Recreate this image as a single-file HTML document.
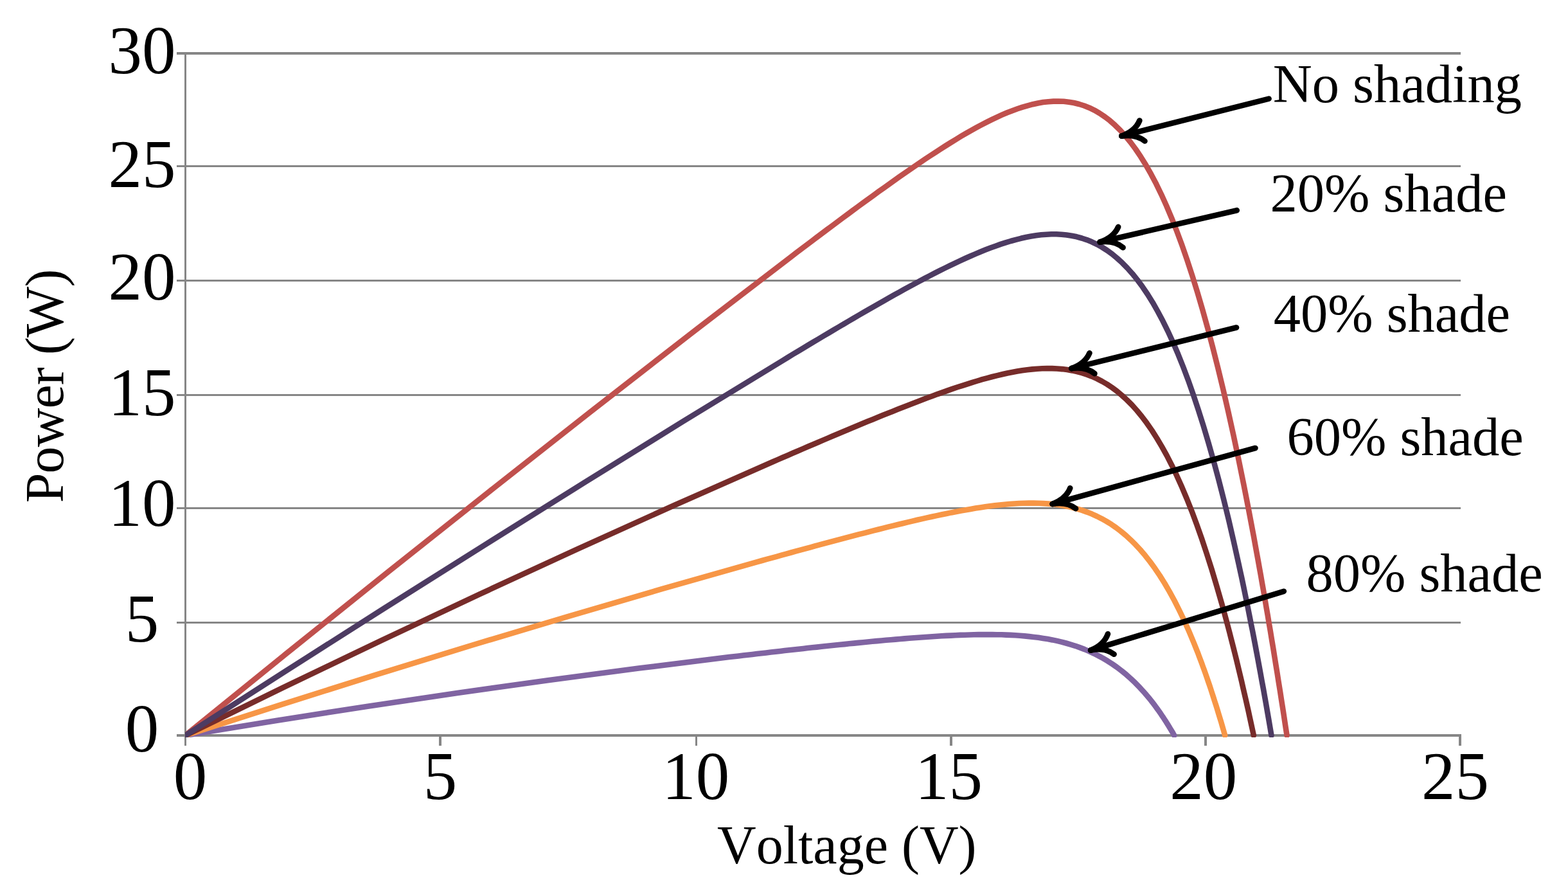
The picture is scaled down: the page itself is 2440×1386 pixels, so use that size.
<!DOCTYPE html>
<html><head><meta charset="utf-8"><title>PV power curves under shading</title>
<style>html,body{margin:0;padding:0;background:#fff;}html,body{width:2440px;height:1386px;overflow:hidden;}svg{display:block;}text{font-kerning:none;font-feature-settings:'kern' 0;}</style></head>
<body><svg width="2440" height="1386" viewBox="0 0 2440 1386">
<rect width="2440" height="1386" fill="#fff"/>
<g fill="#868686"><rect x="275" y="81.0" width="1998" height="4"/><rect x="275" y="257.0" width="1998" height="3"/><rect x="275" y="435.0" width="1998" height="3"/><rect x="275" y="613.0" width="1998" height="3"/><rect x="275" y="789.0" width="1998" height="3"/><rect x="275" y="967.0" width="1998" height="3"/><rect x="287" y="81" width="3" height="1079"/><rect x="275" y="1142" width="1998" height="4"/><rect x="683" y="1142" width="4" height="18"/><rect x="1082" y="1142" width="3" height="18"/><rect x="1478" y="1142" width="4" height="18"/><rect x="1874" y="1142" width="4" height="18"/><rect x="2270" y="1142" width="4" height="18"/></g>
<defs><clipPath id="pa"><rect x="288" y="60" width="2000" height="1087"/></clipPath></defs>
<g clip-path="url(#pa)">
<path d="M288.5,1144.0 L445.6,1016.7 L602.7,890.6 L759.9,765.8 L917.0,642.1 L1074.1,519.8 L1231.2,399.3 L1239.2,393.2 L1247.2,387.1 L1255.2,381.1 L1263.2,375.1 L1271.2,369.0 L1279.2,363.0 L1287.2,357.0 L1295.2,351.1 L1303.2,345.1 L1311.2,339.1 L1319.2,333.2 L1327.2,327.3 L1335.2,321.4 L1343.2,315.6 L1351.2,309.7 L1359.2,303.9 L1367.2,298.1 L1375.2,292.4 L1383.2,286.7 L1391.2,281.0 L1399.2,275.3 L1407.2,269.7 L1415.2,264.2 L1423.2,258.7 L1431.2,253.2 L1439.2,247.8 L1447.2,242.5 L1455.2,237.3 L1463.2,232.1 L1471.2,227.0 L1479.2,222.0 L1487.2,217.1 L1495.2,212.2 L1503.2,207.5 L1511.2,203.0 L1519.2,198.5 L1527.2,194.2 L1535.2,190.1 L1543.2,186.1 L1551.2,182.3 L1559.2,178.7 L1567.2,175.3 L1575.2,172.2 L1583.2,169.3 L1591.2,166.6 L1599.2,164.3 L1607.2,162.2 L1615.2,160.5 L1623.2,159.1 L1631.2,158.2 L1639.2,157.6 L1647.2,157.5 L1655.2,157.8 L1663.2,158.7 L1671.2,160.0 L1679.2,162.0 L1687.2,164.5 L1695.2,167.7 L1703.2,171.6 L1711.2,176.2 L1719.2,181.6 L1727.2,187.7 L1735.2,194.8 L1743.2,202.6 L1751.2,211.5 L1759.2,221.2 L1767.2,232.0 L1775.2,243.9 L1783.2,256.8 L1791.2,270.9 L1799.2,286.1 L1807.2,302.6 L1815.2,320.3 L1823.2,339.2 L1831.2,359.5 L1839.2,381.1 L1847.2,404.1 L1855.2,428.5 L1863.2,454.3 L1871.2,481.5 L1879.2,510.2 L1887.2,540.3 L1895.2,572.0 L1903.2,605.1 L1911.2,639.7 L1919.2,675.9 L1927.2,713.6 L1935.2,752.8 L1943.2,793.6 L1951.2,835.8 L1953.3,847.4 L1955.4,859.1 L1957.6,870.9 L1959.7,882.8 L1961.9,894.8 L1964.0,907.0 L1966.2,919.2 L1968.3,931.6 L1970.4,944.0 L1972.6,956.6 L1974.7,969.3 L1976.9,982.1 L1979.0,995.0 L1981.2,1008.0 L1983.3,1021.1 L1985.4,1034.3 L1987.6,1047.6 L1989.7,1061.1 L1991.9,1074.6 L1994.0,1088.3 L1996.2,1102.1 L1998.3,1115.9 L2000.4,1129.9 L2002.6,1144.0" fill="none" stroke="#C0504D" stroke-width="8.6" stroke-linecap="round" stroke-linejoin="round"/>
<path d="M288.5,1144.0 L429.6,1120.9 L570.6,1098.9 L711.7,1078.0 L852.7,1058.2 L993.8,1039.6 L1134.8,1022.1 L1142.0,1021.3 L1149.2,1020.4 L1156.4,1019.6 L1163.6,1018.7 L1170.7,1017.9 L1177.9,1017.0 L1185.1,1016.2 L1192.3,1015.4 L1199.5,1014.6 L1206.6,1013.7 L1213.8,1012.9 L1221.0,1012.1 L1228.2,1011.3 L1235.4,1010.5 L1242.5,1009.7 L1249.7,1008.9 L1256.9,1008.1 L1264.1,1007.3 L1271.3,1006.6 L1278.4,1005.8 L1285.6,1005.0 L1292.8,1004.3 L1300.0,1003.5 L1307.2,1002.8 L1314.4,1002.1 L1321.5,1001.3 L1328.7,1000.6 L1335.9,999.9 L1343.1,999.2 L1350.3,998.5 L1357.4,997.8 L1364.6,997.1 L1371.8,996.5 L1379.0,995.8 L1386.2,995.2 L1393.3,994.6 L1400.5,994.0 L1407.7,993.4 L1414.9,992.8 L1422.1,992.2 L1429.2,991.7 L1436.4,991.2 L1443.6,990.7 L1450.8,990.2 L1458.0,989.8 L1465.2,989.3 L1472.3,988.9 L1479.5,988.6 L1486.7,988.2 L1493.9,987.9 L1501.1,987.7 L1508.2,987.5 L1515.4,987.3 L1522.6,987.1 L1529.8,987.1 L1537.0,987.0 L1544.1,987.1 L1551.3,987.2 L1558.5,987.3 L1565.7,987.6 L1572.9,987.9 L1580.0,988.3 L1587.2,988.8 L1594.4,989.4 L1601.6,990.1 L1608.8,990.9 L1616.0,991.8 L1623.1,992.9 L1630.3,994.1 L1637.5,995.4 L1644.7,996.9 L1651.9,998.6 L1659.0,1000.5 L1666.2,1002.6 L1673.4,1004.8 L1680.6,1007.4 L1687.8,1010.1 L1694.9,1013.1 L1702.1,1016.5 L1709.3,1020.1 L1716.5,1024.0 L1723.7,1028.3 L1730.8,1032.9 L1738.0,1037.9 L1745.2,1043.4 L1752.4,1049.2 L1759.6,1055.6 L1766.8,1062.4 L1773.9,1069.8 L1781.1,1077.7 L1783.0,1079.9 L1785.0,1082.2 L1786.9,1084.5 L1788.8,1086.8 L1790.7,1089.2 L1792.7,1091.7 L1794.6,1094.2 L1796.5,1096.7 L1798.4,1099.3 L1800.3,1101.9 L1802.3,1104.6 L1804.2,1107.3 L1806.1,1110.0 L1808.0,1112.9 L1810.0,1115.7 L1811.9,1118.7 L1813.8,1121.6 L1815.7,1124.7 L1817.7,1127.8 L1819.6,1130.9 L1821.5,1134.1 L1823.4,1137.3 L1825.4,1140.6 L1827.3,1144.0" fill="none" stroke="#8064A2" stroke-width="8.6" stroke-linecap="round" stroke-linejoin="round"/>
<path d="M288.5,1144.0 L436.8,1096.3 L585.1,1049.6 L733.4,1004.0 L881.7,959.6 L1030.0,916.2 L1178.2,874.1 L1185.8,872.0 L1193.3,869.9 L1200.9,867.8 L1208.4,865.8 L1216.0,863.7 L1223.5,861.6 L1231.1,859.5 L1238.6,857.4 L1246.2,855.4 L1253.7,853.3 L1261.3,851.3 L1268.8,849.2 L1276.4,847.2 L1283.9,845.2 L1291.5,843.1 L1299.0,841.1 L1306.6,839.1 L1314.1,837.1 L1321.7,835.2 L1329.2,833.2 L1336.8,831.2 L1344.3,829.3 L1351.9,827.3 L1359.4,825.4 L1367.0,823.5 L1374.5,821.6 L1382.1,819.7 L1389.6,817.8 L1397.2,816.0 L1404.7,814.2 L1412.3,812.4 L1419.8,810.6 L1427.4,808.8 L1434.9,807.1 L1442.5,805.4 L1450.0,803.7 L1457.6,802.1 L1465.1,800.5 L1472.7,799.0 L1480.2,797.4 L1487.8,796.0 L1495.3,794.5 L1502.9,793.2 L1510.4,791.9 L1518.0,790.6 L1525.5,789.4 L1533.1,788.3 L1540.6,787.3 L1548.2,786.3 L1555.7,785.5 L1563.3,784.7 L1570.8,784.0 L1578.4,783.5 L1585.9,783.0 L1593.5,782.7 L1601.0,782.6 L1608.6,782.6 L1616.1,782.7 L1623.7,783.1 L1631.2,783.6 L1638.8,784.3 L1646.3,785.3 L1653.9,786.5 L1661.4,787.9 L1669.0,789.6 L1676.5,791.6 L1684.1,793.9 L1691.6,796.6 L1699.2,799.6 L1706.7,803.0 L1714.3,806.8 L1721.8,811.0 L1729.4,815.7 L1736.9,820.9 L1744.4,826.6 L1752.0,832.9 L1759.5,839.8 L1767.1,847.3 L1774.6,855.4 L1782.2,864.3 L1789.7,873.9 L1797.3,884.3 L1804.8,895.4 L1812.4,907.5 L1819.9,920.4 L1827.5,934.3 L1835.0,949.1 L1842.6,964.9 L1850.1,981.8 L1857.7,999.8 L1859.7,1004.8 L1861.7,1009.9 L1863.8,1015.1 L1865.8,1020.4 L1867.8,1025.7 L1869.8,1031.1 L1871.8,1036.6 L1873.9,1042.2 L1875.9,1047.9 L1877.9,1053.7 L1879.9,1059.5 L1882.0,1065.5 L1884.0,1071.5 L1886.0,1077.7 L1888.0,1083.9 L1890.0,1090.2 L1892.1,1096.6 L1894.1,1103.1 L1896.1,1109.7 L1898.1,1116.3 L1900.2,1123.1 L1902.2,1130.0 L1904.2,1136.9 L1906.2,1144.0" fill="none" stroke="#F79646" stroke-width="8.6" stroke-linecap="round" stroke-linejoin="round"/>
<path d="M288.5,1144.0 L440.9,1069.4 L593.3,996.3 L745.7,924.6 L898.0,854.3 L1050.4,785.5 L1202.8,718.3 L1210.6,714.9 L1218.3,711.5 L1226.1,708.2 L1233.8,704.8 L1241.6,701.5 L1249.4,698.1 L1257.1,694.8 L1264.9,691.5 L1272.6,688.2 L1280.4,684.9 L1288.1,681.6 L1295.9,678.3 L1303.7,675.0 L1311.4,671.8 L1319.2,668.5 L1326.9,665.3 L1334.7,662.0 L1342.4,658.8 L1350.2,655.6 L1358.0,652.4 L1365.7,649.3 L1373.5,646.1 L1381.2,643.0 L1389.0,639.9 L1396.7,636.8 L1404.5,633.7 L1412.3,630.7 L1420.0,627.7 L1427.8,624.7 L1435.5,621.7 L1443.3,618.8 L1451.1,616.0 L1458.8,613.1 L1466.6,610.4 L1474.3,607.6 L1482.1,604.9 L1489.8,602.3 L1497.6,599.8 L1505.4,597.3 L1513.1,594.8 L1520.9,592.5 L1528.6,590.2 L1536.4,588.1 L1544.1,586.0 L1551.9,584.1 L1559.7,582.2 L1567.4,580.5 L1575.2,579.0 L1582.9,577.6 L1590.7,576.3 L1598.4,575.2 L1606.2,574.4 L1614.0,573.7 L1621.7,573.3 L1629.5,573.1 L1637.2,573.1 L1645.0,573.5 L1652.8,574.1 L1660.5,575.1 L1668.3,576.4 L1676.0,578.1 L1683.8,580.2 L1691.5,582.7 L1699.3,585.6 L1707.1,589.1 L1714.8,593.1 L1722.6,597.6 L1730.3,602.8 L1738.1,608.5 L1745.8,615.0 L1753.6,622.1 L1761.4,629.9 L1769.1,638.5 L1776.9,648.0 L1784.6,658.2 L1792.4,669.4 L1800.1,681.5 L1807.9,694.6 L1815.7,708.6 L1823.4,723.7 L1831.2,739.9 L1838.9,757.1 L1846.7,775.5 L1854.5,795.1 L1862.2,815.8 L1870.0,837.8 L1877.7,861.0 L1885.5,885.4 L1893.2,911.2 L1901.0,938.2 L1903.1,945.7 L1905.2,953.3 L1907.2,960.9 L1909.3,968.7 L1911.4,976.5 L1913.5,984.5 L1915.5,992.5 L1917.6,1000.6 L1919.7,1008.9 L1921.8,1017.2 L1923.9,1025.6 L1925.9,1034.1 L1928.0,1042.8 L1930.1,1051.5 L1932.2,1060.3 L1934.2,1069.2 L1936.3,1078.2 L1938.4,1087.3 L1940.5,1096.5 L1942.6,1105.8 L1944.6,1115.2 L1946.7,1124.7 L1948.8,1134.3 L1950.9,1144.0" fill="none" stroke="#772C2A" stroke-width="8.6" stroke-linecap="round" stroke-linejoin="round"/>
<path d="M288.5,1144.0 L443.4,1044.6 L598.3,946.0 L753.3,848.3 L908.2,751.4 L1063.1,655.4 L1218.0,560.8 L1225.9,556.0 L1233.8,551.2 L1241.7,546.5 L1249.6,541.8 L1257.4,537.0 L1265.3,532.3 L1273.2,527.6 L1281.1,522.9 L1289.0,518.2 L1296.9,513.5 L1304.8,508.9 L1312.7,504.2 L1320.5,499.6 L1328.4,495.0 L1336.3,490.4 L1344.2,485.8 L1352.1,481.2 L1360.0,476.7 L1367.9,472.2 L1375.8,467.7 L1383.6,463.3 L1391.5,458.8 L1399.4,454.5 L1407.3,450.1 L1415.2,445.8 L1423.1,441.5 L1431.0,437.3 L1438.8,433.1 L1446.7,429.0 L1454.6,424.9 L1462.5,420.9 L1470.4,417.0 L1478.3,413.1 L1486.2,409.3 L1494.1,405.6 L1501.9,402.0 L1509.8,398.5 L1517.7,395.1 L1525.6,391.8 L1533.5,388.6 L1541.4,385.6 L1549.3,382.7 L1557.1,379.9 L1565.0,377.4 L1572.9,375.0 L1580.8,372.8 L1588.7,370.8 L1596.6,369.0 L1604.5,367.5 L1612.4,366.3 L1620.2,365.3 L1628.1,364.7 L1636.0,364.3 L1643.9,364.3 L1651.8,364.7 L1659.7,365.5 L1667.6,366.7 L1675.5,368.3 L1683.3,370.5 L1691.2,373.1 L1699.1,376.3 L1707.0,380.1 L1714.9,384.5 L1722.8,389.5 L1730.7,395.2 L1738.5,401.7 L1746.4,408.9 L1754.3,417.0 L1762.2,425.8 L1770.1,435.6 L1778.0,446.3 L1785.9,458.0 L1793.8,470.7 L1801.6,484.5 L1809.5,499.3 L1817.4,515.3 L1825.3,532.5 L1833.2,550.8 L1841.1,570.5 L1849.0,591.4 L1856.8,613.7 L1864.7,637.3 L1872.6,662.3 L1880.5,688.7 L1888.4,716.6 L1896.3,745.9 L1904.2,776.7 L1912.1,809.1 L1919.9,842.9 L1927.8,878.4 L1929.9,888.1 L1932.1,898.0 L1934.2,908.0 L1936.3,918.1 L1938.4,928.3 L1940.5,938.6 L1942.6,949.0 L1944.7,959.6 L1946.8,970.3 L1949.0,981.0 L1951.1,991.9 L1953.2,1002.9 L1955.3,1014.1 L1957.4,1025.3 L1959.5,1036.6 L1961.6,1048.1 L1963.7,1059.7 L1965.9,1071.4 L1968.0,1083.2 L1970.1,1095.1 L1972.2,1107.2 L1974.3,1119.3 L1976.4,1131.6 L1978.5,1144.0" fill="none" stroke="#4D3B62" stroke-width="8.6" stroke-linecap="round" stroke-linejoin="round"/>
</g>
<g fill="none" stroke="#000" stroke-width="8.7" stroke-linecap="round" stroke-linejoin="round">
<path d="M1974.50,153.60 L1745.40,211.60"/>
<path d="M1745.40,211.60 Q1767.75,208.21 1781.44,219.50"/>
<path d="M1745.40,211.60 Q1766.67,203.95 1773.34,187.51"/>
<path d="M1924.70,327.20 L1711.70,376.50"/>
<path d="M1711.70,376.50 Q1734.12,373.57 1747.57,385.13"/>
<path d="M1711.70,376.50 Q1733.12,369.28 1740.13,352.98"/>
<path d="M1924.00,509.50 L1667.40,573.10"/>
<path d="M1667.40,573.10 Q1689.77,569.82 1703.40,581.18"/>
<path d="M1667.40,573.10 Q1688.71,565.55 1695.46,549.15"/>
<path d="M1953.40,697.00 L1637.80,784.00"/>
<path d="M1637.80,784.00 Q1660.08,780.14 1674.00,791.14"/>
<path d="M1637.80,784.00 Q1658.91,775.90 1665.23,759.32"/>
<path d="M1997.80,919.80 L1697.20,1011.50"/>
<path d="M1697.20,1011.50 Q1719.36,1007.04 1733.58,1017.65"/>
<path d="M1697.20,1011.50 Q1718.08,1002.83 1723.95,986.09"/>
</g>
<g font-family="'Liberation Serif', 'Times New Roman', serif" fill="#000"><text x="221" y="114" text-anchor="middle" font-size="105">30</text><text x="221" y="291" text-anchor="middle" font-size="105">25</text><text x="221" y="466" text-anchor="middle" font-size="105">20</text><text x="221" y="646" text-anchor="middle" font-size="105">15</text><text x="221" y="818" text-anchor="middle" font-size="105">10</text><text x="221" y="998" text-anchor="middle" font-size="105">5</text><text x="221" y="1169" text-anchor="middle" font-size="105">0</text><text x="296" y="1243" text-anchor="middle" font-size="105">0</text><text x="685" y="1243" text-anchor="middle" font-size="105">5</text><text x="1082.8" y="1243" text-anchor="middle" font-size="105">10</text><text x="1476.5" y="1243" text-anchor="middle" font-size="105">15</text><text x="1872.8" y="1243" text-anchor="middle" font-size="105">20</text><text x="2264.5" y="1243" text-anchor="middle" font-size="105">25</text><text x="1317.8" y="1343" text-anchor="middle" font-size="84">Voltage (V)</text><text transform="translate(97.8,600.4) rotate(-90)" x="0" y="0" text-anchor="middle" font-size="84" textLength="363.8" lengthAdjust="spacing">Power (W)</text><text x="1980.7" y="158.5" font-size="84.5">No shading</text><text x="1976.5" y="329" font-size="84.5">20% shade</text><text x="1981.7" y="516" font-size="84.5">40% shade</text><text x="2002.4" y="708" font-size="84.5">60% shade</text><text x="2032.4" y="920" font-size="84.5">80% shade</text></g>
</svg></body></html>
